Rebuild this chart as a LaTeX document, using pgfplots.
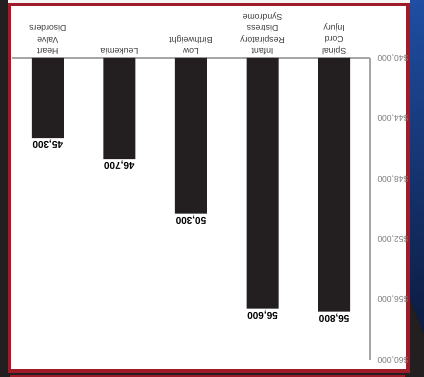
\documentclass[border=0pt]{standalone}
\usepackage{pgfplots}
\pgfplotsset{compat=1.18}
\usepackage{fontspec}
\setmainfont{Liberation Sans}
\definecolor{framered}{HTML}{9E1B2A}
\definecolor{darkbg}{HTML}{231F20}
\definecolor{bluetop}{HTML}{1F4EA3}
\definecolor{bluemid}{HTML}{1A2F72}
\definecolor{bluebot}{HTML}{0C1A3E}
\definecolor{barcol}{HTML}{231F20}
\definecolor{axgray}{HTML}{A6A6A6}
\definecolor{ticktext}{HTML}{7A7A7A}
\definecolor{cattext}{HTML}{3C3C3C}
\begin{document}
\begin{tikzpicture}
\useasboundingbox (0pt,0pt) rectangle (424pt,377pt);
\fill[darkbg] (0pt,0pt) rectangle (424pt,377pt);
\fill[white!92!gray] (8pt,374pt) rectangle (410pt,377pt);
\shade[top color=bluetop, middle color=bluemid, bottom color=bluebot] (410pt,377pt) rectangle (424pt,40pt);
\fill[darkbg] (410pt,77pt) -- (424pt,42pt) -- (424pt,0pt) -- (410pt,0pt) -- cycle;
\fill[framered] (8pt,4pt) rectangle (409.5pt,374pt);
\fill[white] (11pt,8pt) rectangle (406pt,371pt);
\fill[framered] (10pt,0pt) rectangle (405pt,2pt);
\begin{axis}[
  at={(191pt,168pt)}, anchor=center,
  scale only axis, width=358pt, height=302pt,
  x dir=reverse, y dir=reverse,
  xmin=-0.5, xmax=4.5, ymin=40000, ymax=60000,
  ybar, bar width=32pt,
  axis x line*=top, axis y line*=right,
  axis line style={axgray, line width=1.2pt},
  major tick length=0pt,
  /pgf/number format/1000 sep={,},
  /pgf/number format/assume math mode=true,
  xtick=data,
  xticklabels={{Spinal\\Cord\\Injury},{Infant\\Respiratory\\Distress\\Syndrome},{Low\\Birthweight},{Leukemia},{Heart\\Valve\\Disorders}},
  xticklabel style={rotate=180, anchor=north, align=center, font=\fontsize{8.7}{11.5}\selectfont, text=cattext, inner ysep=3pt},
  ytick={40000,44000,48000,52000,56000,60000},
  scaled y ticks=false,
  yticklabel={\$\pgfmathprintnumber{\tick}},
  yticklabel style={rotate=180, anchor=east, font=\fontsize{8.5}{9}\selectfont, text=ticktext},
  yticklabel shift=4pt,
  nodes near coords={\pgfmathprintnumber{\pgfplotspointmeta}},
  nodes near coords style={rotate=180, anchor=south, font=\bfseries\fontsize{10}{11}\selectfont, text=black, inner ysep=2pt},
]
\addplot[fill=barcol, draw=none] coordinates {(0,56800) (1,56600) (2,50300) (3,46700) (4,45300)};
\end{axis}
\end{tikzpicture}
\end{document}
